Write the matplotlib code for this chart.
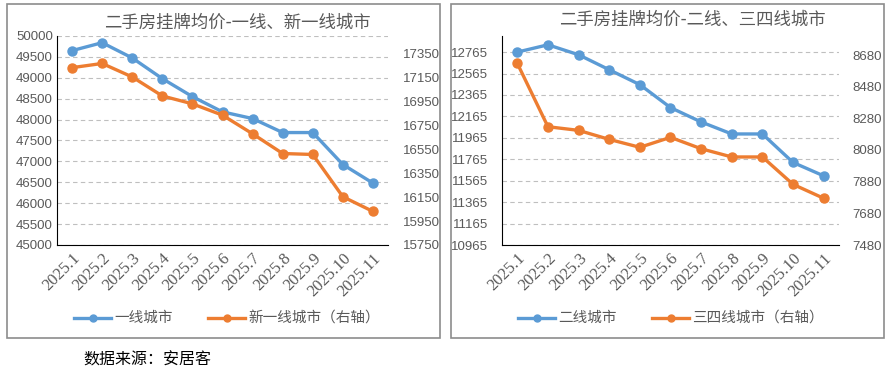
import numpy as np
import matplotlib
matplotlib.use("Agg")
import matplotlib.pyplot as plt
from matplotlib.patches import Rectangle
from matplotlib.lines import Line2D

plt.rcParams['font.family'] = ['Noto Sans CJK SC', 'DejaVu Sans']

# datos
months = ["2025.1", "2025.2", "2025.3", "2025.4", "2025.5", "2025.6",
          "2025.7", "2025.8", "2025.9", "2025.10", "2025.11"]
tier1 = [49650, 49840, 49475, 48980, 48550, 48185, 48025, 47690, 47690, 46925, 46480]
new_tier1 = [17235, 17270, 17157, 16998, 16932, 16837, 16681, 16516, 16508, 16154, 16031]
tier2 = [12765, 12833, 12740, 12600, 12461, 12247, 12113, 12001, 12001, 11735, 11610]
tier34 = [8627, 8227, 8204, 8147, 8097, 8160, 8088, 8036, 8036, 7863, 7775]

BLUE = "#5B9BD5"
ORANGE = "#ED7D31"
GRAY = "#595959"
W, H = 889, 372

fig = plt.figure(figsize=(W / 100, H / 100), dpi=100)


def px(x0, y0, x1, y1):
    return [x0 / W, 1 - y1 / H, (x1 - x0) / W, (y1 - y0) / H]


def panel(box, axbox, title, title_xy, s1, s2, lab1, lab2,
          lim1, ticks1, lim2, ticks2, lpad, rpad, leg_x):
    fig.patches.append(Rectangle((box[0] / W, 1 - box[3] / H),
                                 (box[2] - box[0]) / W, (box[3] - box[1]) / H,
                                 transform=fig.transFigure, fill=False,
                                 edgecolor="#8C8C8C", lw=1.2))
    ax = fig.add_axes(px(*axbox))
    ax2 = ax.twinx()
    x = np.arange(len(months))
    ax.plot(x, s1, color=BLUE, lw=2.4, marker="o", ms=6.5, zorder=3)
    ax2.plot(x, s2, color=ORANGE, lw=2.4, marker="o", ms=6.5, zorder=3)
    ax.set_xlim(-0.5, len(months) - 0.5)
    ax.set_ylim(*lim1)
    ax.set_yticks(ticks1)
    ax2.set_ylim(*lim2)
    ax2.set_yticks(ticks2)
    ax.grid(axis="y", ls=(0, (4, 3)), color="#BFBFBF", lw=0.8)
    ax.set_axisbelow(True)
    for a in (ax, ax2):
        for sp in ("top", "right"):
            a.spines[sp].set_visible(False)
        a.spines["left"].set_visible(a is ax)
        a.spines["bottom"].set_visible(a is ax)
    ax.spines["left"].set_color("black")
    ax.spines["bottom"].set_color("black")
    ax.tick_params(axis="y", length=0, pad=lpad, labelsize=9.5, labelcolor=GRAY)
    ax2.tick_params(axis="y", length=0, pad=rpad, labelsize=9.5, labelcolor=GRAY)
    for lab in ax.get_yticklabels() + ax2.get_yticklabels():
        lab.set_family("Liberation Sans")
    ax.set_xticks(x)
    ax.set_xticklabels(months, rotation=45, ha="right", rotation_mode="anchor",
                       family="Liberation Serif", fontsize=12, color=GRAY)
    ax.tick_params(axis="x", length=0, pad=4)
    fig.text(title_xy[0] / W, 1 - title_xy[1] / H, title, ha="center", va="center",
             fontsize=12.5, color=GRAY)
    # leyenda
    ly = 318
    for i, (c, lab) in enumerate([(BLUE, lab1), (ORANGE, lab2)]):
        x0 = leg_x[i]
        fig.lines.append(Line2D([x0 / W, (x0 + 37) / W], [1 - ly / H] * 2,
                                transform=fig.transFigure, color=c, lw=2.4))
        fig.lines.append(Line2D([(x0 + 18.5) / W], [1 - ly / H],
                                transform=fig.transFigure, color=c,
                                marker="o", ms=5, lw=0))
        fig.text((x0 + 40) / W, 1 - ly / H, lab, ha="left", va="center",
                 fontsize=10.5, color=GRAY)
    return ax, ax2


panel((7, 4, 440, 338), (57, 36, 388, 245), "二手房挂牌均价-一线、新一线城市", (237, 23),
      tier1, new_tier1, "一线城市", "新一线城市（右轴）",
      (45000, 50000), np.arange(45000, 50001, 500),
      (15750, 17500), np.arange(15750, 17501, 200), 3, 10.8, (74, 208))

panel((451, 4, 884, 338), (502, 36, 839, 245), "二手房挂牌均价-二线、三四线城市", (692, 20),
      tier2, tier34, "二线城市", "三四线城市（右轴）",
      (10965, 12915), np.arange(10965, 12916, 200),
      (7480, 8800), np.arange(7480, 8801, 200), 10, 9.4, (518, 652))

fig.text(83 / W, 1 - 360 / H, "数据来源：安居客", ha="left", va="center",
         fontsize=11.5, color="black")

fig.savefig("out.png", dpi=100)
